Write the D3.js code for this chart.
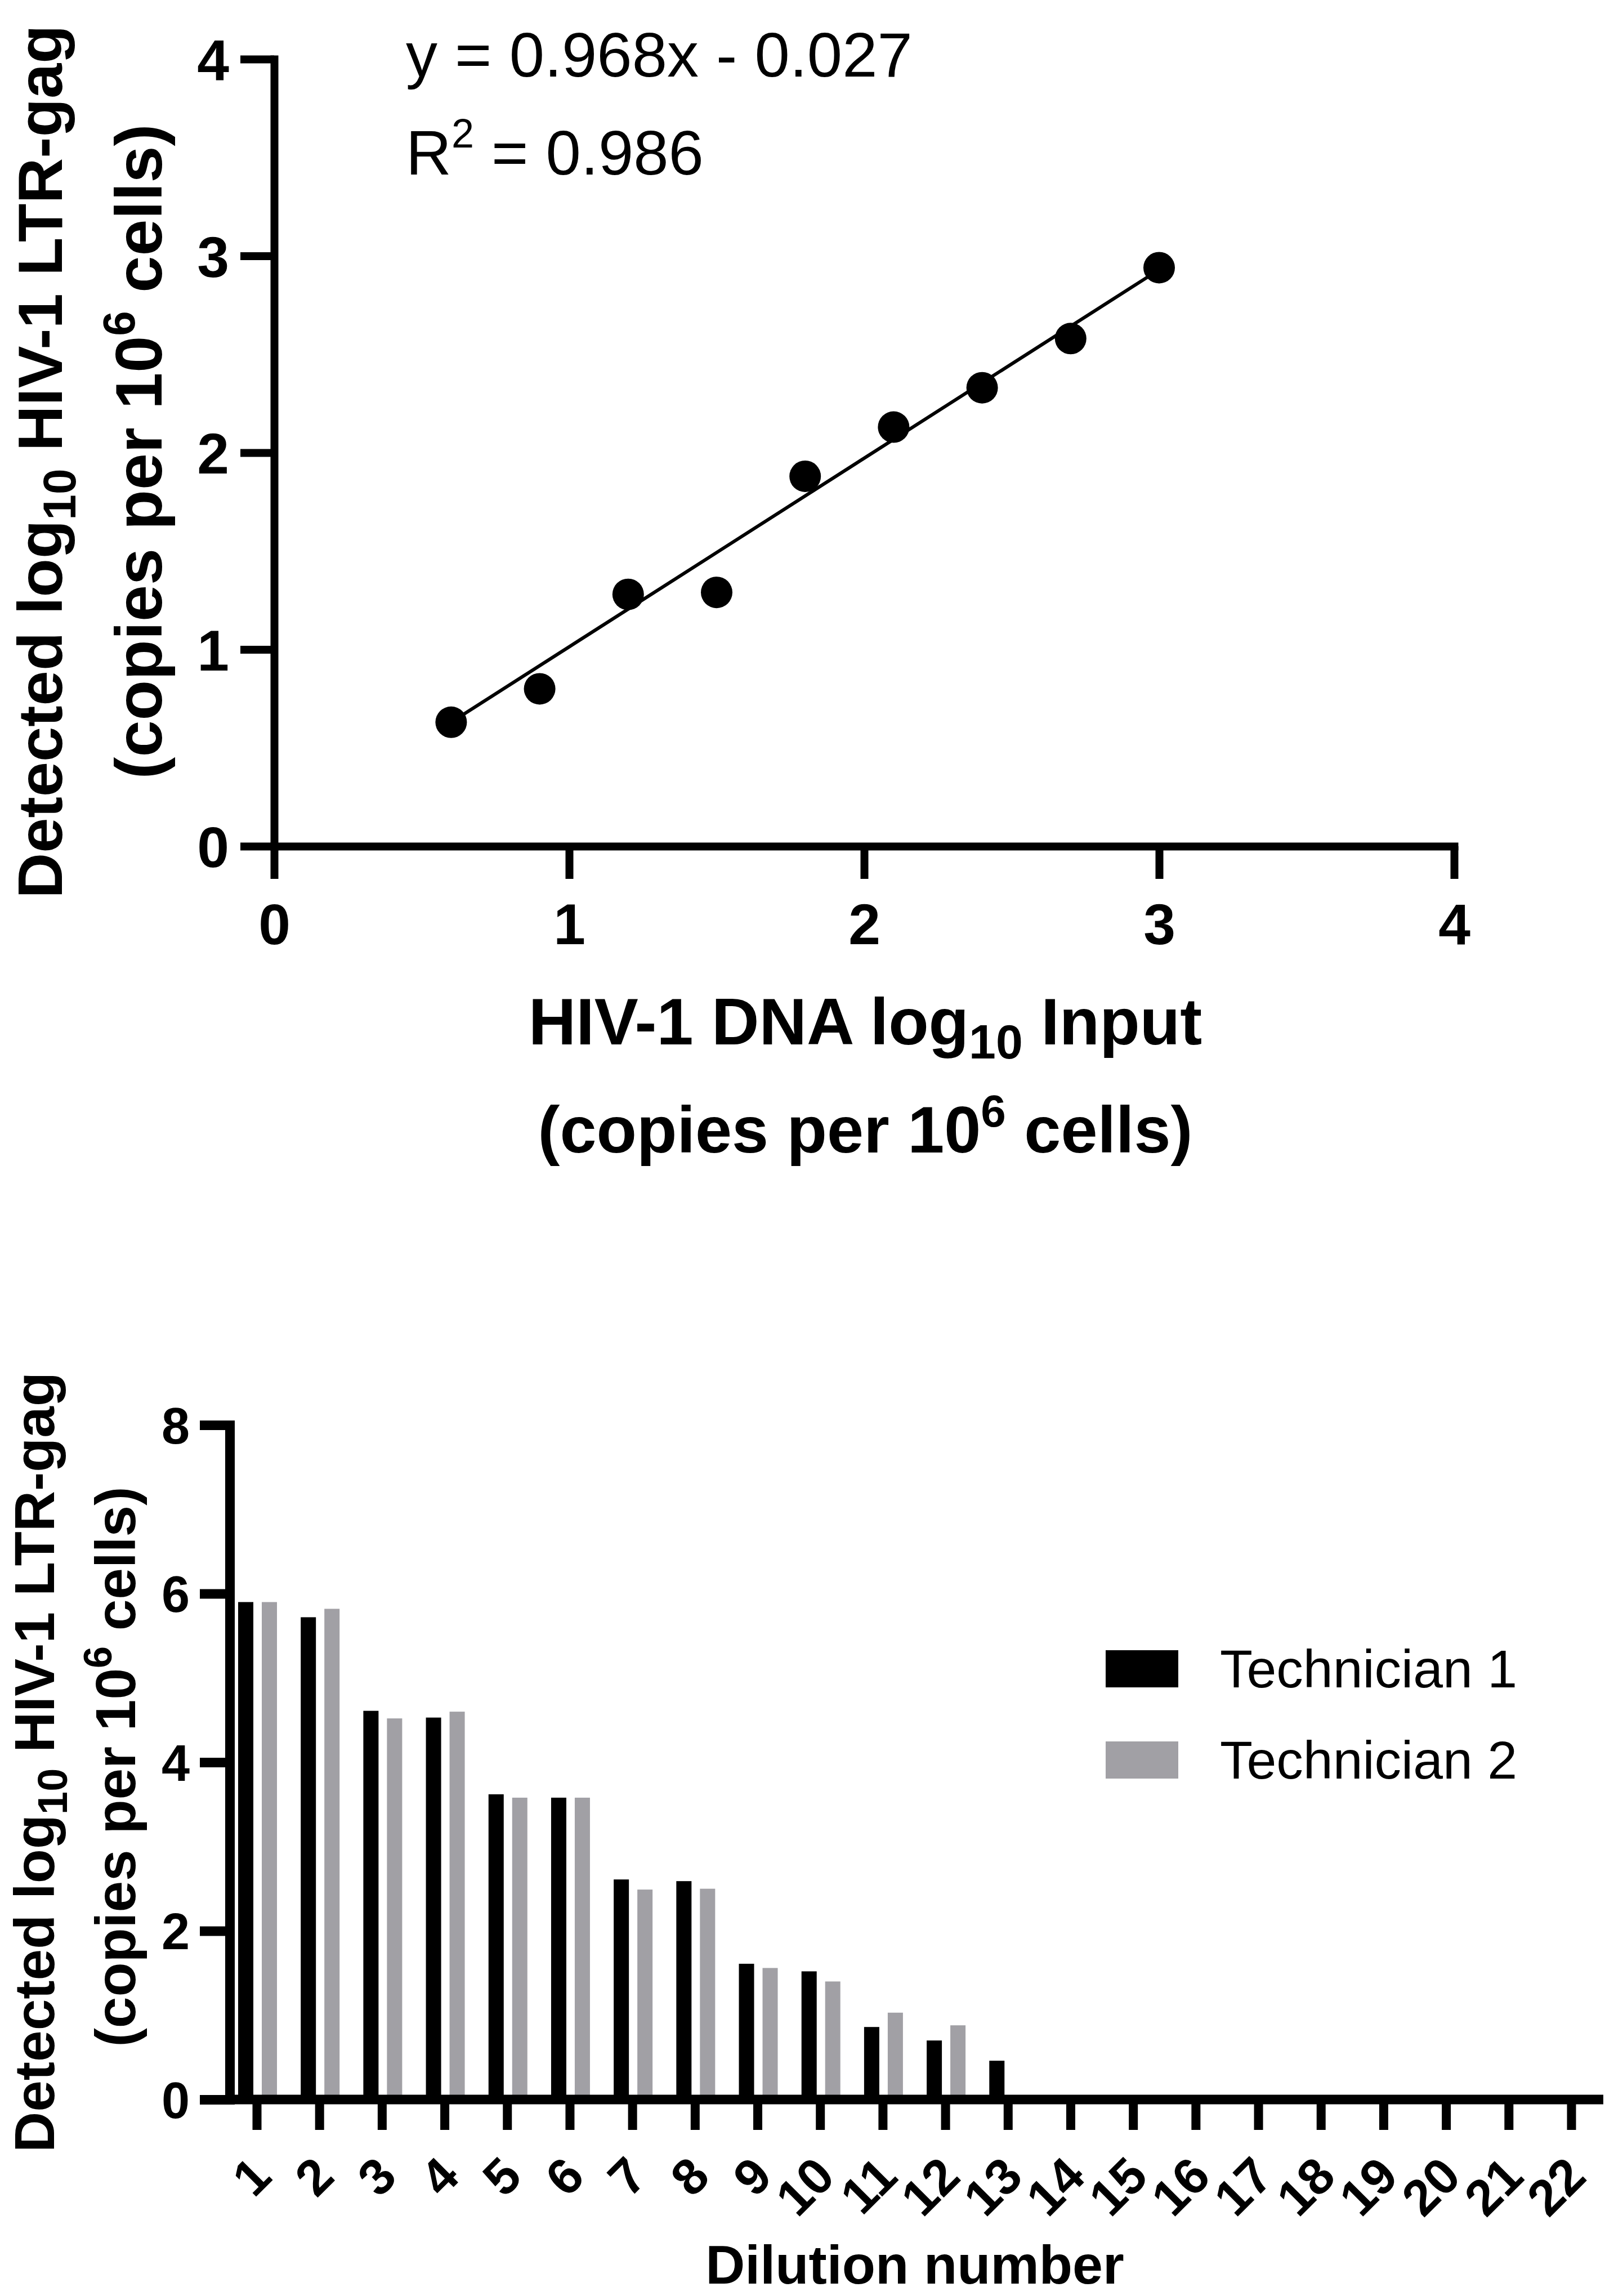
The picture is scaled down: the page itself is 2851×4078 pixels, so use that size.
<!DOCTYPE html>
<html>
<head>
<meta charset="utf-8">
<script src="https://cdn.jsdelivr.net/npm/d3@7"></script>
<style>
  html, body { margin: 0; padding: 0; background: #ffffff; }
  svg { display: block; }
</style>
</head>
<body>
<script>
// ---------- DATA ----------
// Top panel: scatter with linear fit
const inputLog = [0.6, 0.9, 1.2, 1.5, 1.8, 2.1, 2.4, 2.7, 3.0];
const detectedLog = [0.63, 0.80, 1.28, 1.29, 1.88, 2.13, 2.33, 2.58, 2.94];
const fitLineX = [0.6, 3.0];
const fitLineY = [0.63, 2.93];
const eqText = "y = 0.968x - 0.027";
const r2Value = "0.986";
const topTicks = [0, 1, 2, 3, 4];

// Bottom panel: grouped bars
const dilutions = ["1","2","3","4","5","6","7","8","9","10","11","12","13","14","15","16","17","18","19","20","21","22"];
const technician1 = [5.90, 5.72, 4.61, 4.53, 3.62, 3.58, 2.61, 2.59, 1.61, 1.52, 0.86, 0.70, 0.46, 0, 0, 0, 0, 0, 0, 0, 0, 0];
const technician2 = [5.90, 5.82, 4.52, 4.60, 3.58, 3.58, 2.49, 2.50, 1.56, 1.40, 1.03, 0.88, 0, 0, 0, 0, 0, 0, 0, 0, 0, 0];
const seriesNames = ["Technician 1", "Technician 2"];
const seriesColors = ["#000000", "#a1a0a5"];
const bottomTicks = [0, 2, 4, 6, 8];

// ---------- SETUP ----------
const W = 2851, H = 4078;
const FONT = "'Liberation Sans', Arial, Helvetica, sans-serif";
const svg = d3.select("body").append("svg")
  .attr("width", W).attr("height", H)
  .attr("viewBox", `0 0 ${W} ${H}`)
  .style("font-family", FONT);
svg.append("rect").attr("width", W).attr("height", H).attr("fill", "#fff");

function styleAxis(g, sw, fs) {
  g.attr("font-family", FONT).attr("font-size", fs).attr("font-weight", "bold");
  g.selectAll("line").attr("stroke", "#000").attr("stroke-width", sw);
  g.selectAll("path.domain").attr("stroke", "#000").attr("stroke-width", sw).attr("stroke-linecap", "square");
  g.selectAll("text").attr("fill", "#000");
}

// ---------- TOP PANEL ----------
const xT = d3.scaleLinear().domain([0, 4]).range([487, 2583]);
const yT = d3.scaleLinear().domain([0, 4]).range([1503, 105]);
const topG = svg.append("g");

const gyT = topG.append("g").attr("transform", `translate(${xT(0)},0)`)
  .call(d3.axisLeft(yT).tickValues(topTicks).tickFormat(d3.format("d"))
    .tickSize(60).tickSizeOuter(0).tickPadding(20));
styleAxis(gyT, 14, 102);
gyT.selectAll("text").attr("dy", "0.36em");

const gxT = topG.append("g").attr("transform", `translate(0,${yT(0)})`)
  .call(d3.axisBottom(xT).tickValues(topTicks).tickFormat(d3.format("d"))
    .tickSize(58).tickSizeOuter(0).tickPadding(44));
styleAxis(gxT, 14, 102);

// fit line
topG.append("path")
  .datum(d3.zip(fitLineX, fitLineY))
  .attr("d", d3.line().x(d => xT(d[0])).y(d => yT(d[1])))
  .attr("stroke", "#000").attr("stroke-width", 6).attr("fill", "none");

// points
topG.selectAll("circle.pt").data(d3.zip(inputLog, detectedLog)).join("circle")
  .attr("class", "pt")
  .attr("cx", d => xT(d[0])).attr("cy", d => yT(d[1]))
  .attr("r", 28).attr("fill", "#000");

// equation
topG.append("text").attr("x", 721).attr("y", 136)
  .attr("font-size", 112).attr("fill", "#000").text(eqText);
const r2 = topG.append("text").attr("x", 721).attr("y", 310)
  .attr("font-size", 112).attr("fill", "#000");
r2.append("tspan").text("R");
r2.append("tspan").attr("font-size", 72).attr("dy", -48).text("2");
r2.append("tspan").attr("dy", 48).text(" = " + r2Value);

// y title top
const yt1 = topG.append("text").attr("transform", "translate(110,820) rotate(-90)")
  .attr("text-anchor", "middle").attr("font-size", 112).attr("font-weight", "bold").attr("fill", "#000");
yt1.append("tspan").text("Detected log");
yt1.append("tspan").attr("font-size", 82).attr("dy", 24).text("10");
yt1.append("tspan").attr("dy", -24).text(" HIV-1 LTR-gag");
const yt2 = topG.append("text").attr("transform", "translate(287,802) rotate(-90)")
  .attr("text-anchor", "middle").attr("font-size", 117).attr("font-weight", "bold").attr("fill", "#000");
yt2.append("tspan").text("(copies per 10");
yt2.append("tspan").attr("font-size", 80).attr("dy", -48).text("6");
yt2.append("tspan").attr("dy", 48).text(" cells)");

// x title top
const xt1 = topG.append("text").attr("x", 1537).attr("y", 1855)
  .attr("text-anchor", "middle").attr("font-size", 117).attr("font-weight", "bold").attr("fill", "#000");
xt1.append("tspan").text("HIV-1 DNA log");
xt1.append("tspan").attr("font-size", 86).attr("dy", 25).text("10");
xt1.append("tspan").attr("dy", -25).text(" Input");
const xt2 = topG.append("text").attr("x", 1537).attr("y", 2047)
  .attr("text-anchor", "middle").attr("font-size", 117).attr("font-weight", "bold").attr("fill", "#000");
xt2.append("tspan").text("(copies per 10");
xt2.append("tspan").attr("font-size", 80).attr("dy", -46).text("6");
xt2.append("tspan").attr("dy", 46).text(" cells)");

// ---------- BOTTOM PANEL ----------
const yB = d3.scaleLinear().domain([0, 8]).range([3729, 2531]);
const xB = d3.scalePoint().domain(dilutions).range([456, 2791]);
const xInner = d3.scaleBand().domain(seriesNames).range([-33, 36]).paddingInner(0.357).paddingOuter(0);
const botG = svg.append("g");
const axisX0 = 408, axisXEnd = 2848;

// bars
const barData = [];
dilutions.forEach((d, i) => {
  barData.push({ cat: d, s: seriesNames[0], v: technician1[i], c: seriesColors[0] });
  barData.push({ cat: d, s: seriesNames[1], v: technician2[i], c: seriesColors[1] });
});
botG.selectAll("rect.bar").data(barData.filter(d => d.v > 0)).join("rect")
  .attr("class", "bar")
  .attr("x", d => xB(d.cat) + xInner(d.s))
  .attr("width", xInner.bandwidth())
  .attr("y", d => yB(d.v))
  .attr("height", d => yB(0) - yB(d.v))
  .attr("fill", d => d.c);

// y axis
const gyB = botG.append("g").attr("transform", `translate(${axisX0},0)`)
  .call(d3.axisLeft(yB).tickValues(bottomTicks).tickFormat(d3.format("d"))
    .tickSize(53).tickSizeOuter(0).tickPadding(18));
styleAxis(gyB, 17, 90);
gyB.selectAll("text").attr("dy", "0.36em");

// x axis line
botG.append("line").attr("x1", axisX0).attr("x2", axisXEnd)
  .attr("y1", yB(0)).attr("y2", yB(0))
  .attr("stroke", "#000").attr("stroke-width", 17);

// x ticks
const gxB = botG.append("g").attr("transform", `translate(0,${yB(0)})`)
  .call(d3.axisBottom(xB).tickSize(54).tickSizeOuter(0));
gxB.select("path.domain").remove();
styleAxis(gxB, 16, 90);
gxB.selectAll(".tick text")
  .attr("y", null).attr("dy", null)
  .attr("text-anchor", "end")
  .attr("transform", "translate(30,141) rotate(-45)");

// x title
botG.append("text").attr("x", 1625).attr("y", 4056)
  .attr("text-anchor", "middle").attr("font-size", 97).attr("font-weight", "bold")
  .attr("fill", "#000").text("Dilution number");

// y title
const yb1 = botG.append("text").attr("transform", "translate(96,3130) rotate(-90)")
  .attr("text-anchor", "middle").attr("font-size", 100).attr("font-weight", "bold").attr("fill", "#000");
yb1.append("tspan").text("Detected log");
yb1.append("tspan").attr("font-size", 74).attr("dy", 23).text("10");
yb1.append("tspan").attr("dy", -23).text(" HIV-1 LTR-gag");
const yb2 = botG.append("text").attr("transform", "translate(240,3138) rotate(-90)")
  .attr("text-anchor", "middle").attr("font-size", 100).attr("font-weight", "bold").attr("fill", "#000");
yb2.append("tspan").text("(copies per 10");
yb2.append("tspan").attr("font-size", 70).attr("dy", -42).text("6");
yb2.append("tspan").attr("dy", 42).text(" cells)");

// legend
const legY = [2931, 3093];
const leg = botG.selectAll("g.leg").data(seriesNames).join("g").attr("class", "leg");
leg.append("rect").attr("x", 1964).attr("y", (d, i) => legY[i])
  .attr("width", 129).attr("height", 66).attr("fill", (d, i) => seriesColors[i]);
leg.append("text").attr("x", 2167).attr("y", (d, i) => legY[i] + 66)
  .attr("font-size", 95).attr("fill", "#000").text(d => d);
</script>
</body>
</html>
